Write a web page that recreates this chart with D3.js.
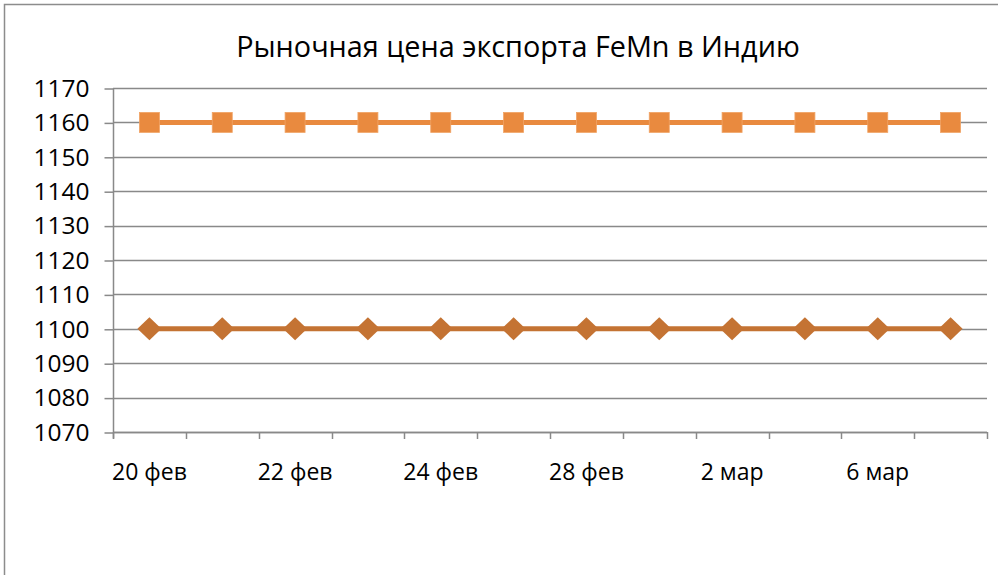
<!DOCTYPE html>
<html>
<head>
<meta charset="utf-8">
<script src="https://cdn.jsdelivr.net/npm/d3@7/dist/d3.min.js"></script>
<style>
html,body{margin:0;padding:0;background:#fff;}
svg{display:block;}
text{font-family:"Open Sans",sans-serif;fill:#000;}
</style>
</head>
<body>
<svg id="chart" width="998" height="575"></svg>
<script>
const title = "Рыночная цена экспорта FeMn в Индию";
const categories = ["20 фев","21 фев","22 фев","23 фев","24 фев","27 фев","28 фев","1 мар","2 мар","3 мар","6 мар","7 мар"];
const shownLabels = ["20 фев","22 фев","24 фев","28 фев","2 мар","6 мар"];
const seriesSquare = [1160,1160,1160,1160,1160,1160,1160,1160,1160,1160,1160,1160];
const seriesDiamond = [1100,1100,1100,1100,1100,1100,1100,1100,1100,1100,1100,1100];
const yTicks = [1070,1080,1090,1100,1110,1120,1130,1140,1150,1160,1170];

const svg = d3.select("#chart");
const plotL = 113, plotR = 987, plotT = 88, plotB = 432;

// outer border
svg.append("rect").attr("x",4.5).attr("y",4.5).attr("width",1100).attr("height",700)
  .attr("fill","none").attr("stroke","#8c8c8c").attr("stroke-width",1.5);

svg.append("text").attr("x",518).attr("y",57).attr("text-anchor","middle")
  .style("font-size","28.8px").text(title);

const x = d3.scaleBand().domain(categories).range([plotL,plotR]).paddingInner(0).paddingOuter(0);
const y = d3.scaleLinear().domain([1070,1170]).range([plotB,plotT]);

// gridlines
svg.append("g").selectAll("line").data(yTicks).join("line")
  .attr("x1",plotL).attr("x2",plotR)
  .attr("y1",d=>Math.round(y(d))+0.5).attr("y2",d=>Math.round(y(d))+0.5)
  .attr("stroke","#898989").attr("stroke-width",1.5);

// y axis
const yAxis = d3.axisLeft(y).tickValues(yTicks).tickSize(9).tickPadding(15).tickFormat(d3.format("d"));
const gy = svg.append("g").attr("transform",`translate(${plotL+0.5},0.5)`).call(yAxis);
gy.select(".domain").attr("stroke","#898989").attr("stroke-width",1.5).attr("d",`M0,${plotT}V${plotB+6}`);
gy.selectAll(".tick line").attr("stroke","#898989").attr("stroke-width",1.5);
gy.selectAll(".tick text").style("font-size","24.5px").style("font-family","'Open Sans',sans-serif").attr("fill","#000");

// x axis
const xAxis = d3.axisBottom(x).tickSize(0).tickFormat(d=>shownLabels.includes(d)?d:"").tickPadding(31);
const gx = svg.append("g").attr("transform",`translate(0,${plotB+0.5})`).call(xAxis);
gx.select(".domain").attr("stroke","#898989").attr("stroke-width",1.5).attr("d",`M${plotL},0H${plotR}`);
gx.selectAll(".tick text").style("font-size","23px").style("font-family","'Open Sans',sans-serif").attr("fill","#000");
// category boundary ticks
const bounds = categories.map(c=>x(c)).concat([plotR]);
svg.append("g").selectAll("line").data(bounds).join("line")
  .attr("x1",d=>Math.round(d)+0.5).attr("x2",d=>Math.round(d)+0.5)
  .attr("y1",plotB).attr("y2",plotB+7)
  .attr("stroke","#898989").attr("stroke-width",1.5);

const cx = c => x(c) + x.bandwidth()/2;

// diamond series
const colD = "#C47333";
svg.append("path").datum(seriesDiamond)
  .attr("d", d3.line().x((d,i)=>cx(categories[i])).y(d=>y(d)))
  .attr("fill","none").attr("stroke",colD).attr("stroke-width",5);
svg.append("g").selectAll("path").data(seriesDiamond).join("path")
  .attr("transform",(d,i)=>`translate(${cx(categories[i])},${y(d)})`)
  .attr("d","M0,-11.5L12,0L0,11.5L-12,0Z").attr("fill",colD);

// square series
const colS = "#E98A3F";
svg.append("path").datum(seriesSquare)
  .attr("d", d3.line().x((d,i)=>cx(categories[i])).y(d=>y(d)))
  .attr("fill","none").attr("stroke",colS).attr("stroke-width",5);
svg.append("g").selectAll("rect").data(seriesSquare).join("rect")
  .attr("x",(d,i)=>cx(categories[i])-10).attr("y",d=>y(d)-10)
  .attr("width",20).attr("height",20).attr("fill",colS)
  .attr("stroke","#F0A466").attr("stroke-width",0.8);
</script>
</body>
</html>
